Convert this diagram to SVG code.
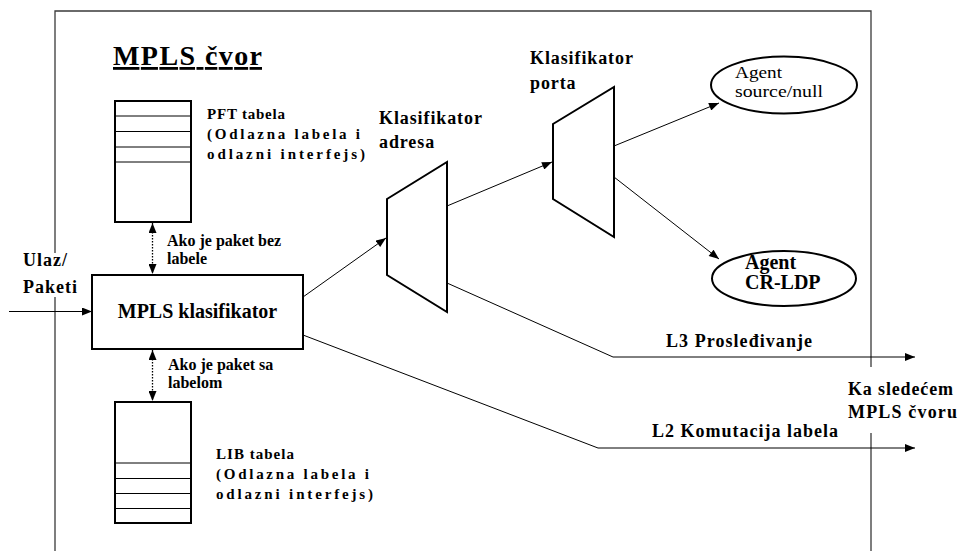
<svg xmlns="http://www.w3.org/2000/svg" width="961" height="551" viewBox="0 0 961 551">
  <style>
    .frame { fill: none; stroke: #3a3a3a; stroke-width: 1.3; }
    .box { fill: #ffffff; stroke: #000000; stroke-width: 2; }
    .row { stroke: #000000; stroke-width: 1; }
    .conn { fill: none; stroke: #000000; stroke-width: 1; }
    .dotted { fill: none; stroke: #000000; stroke-width: 1.3; stroke-dasharray: 1.5 1.5; }
    .t { font-family: "Liberation Serif", "Times New Roman", serif; fill: #000000; }
    .b { font-weight: bold; }
  </style>
  <defs>
    <marker id="arrow" viewBox="0 0 10 8" refX="10" refY="4" markerWidth="11" markerHeight="8" markerUnits="userSpaceOnUse" orient="auto-start-reverse">
      <path d="M0,0 L10,4 L0,8 z" fill="#000000"/>
    </marker>
  </defs>

  <!-- node boundary -->
  <g id="frame">
    <path class="frame" d="M55,551 V297 M55,253 V11 H871 V367 M871,433 V551"/>
  </g>

  <text class="t b" x="113" y="65" font-size="28" textLength="149" lengthAdjust="spacing" text-decoration="underline">MPLS čvor</text>

  <!-- connectors -->
  <g id="connectors">
    <line class="conn" x1="9" y1="311.5" x2="92" y2="311.5" marker-end="url(#arrow)"/>
    <line class="dotted" x1="152.5" y1="223" x2="152.5" y2="274" marker-start="url(#arrow)" marker-end="url(#arrow)"/>
    <line class="dotted" x1="152.5" y1="350" x2="152.5" y2="401" marker-start="url(#arrow)" marker-end="url(#arrow)"/>
    <line class="conn" x1="303" y1="297" x2="386" y2="238" marker-end="url(#arrow)"/>
    <line class="conn" x1="447" y1="206" x2="552" y2="162" marker-end="url(#arrow)"/>
    <line class="conn" x1="614" y1="146" x2="719" y2="103" marker-end="url(#arrow)"/>
    <line class="conn" x1="614" y1="177" x2="719" y2="259" marker-end="url(#arrow)"/>
    <polyline class="conn" points="447,283 613,357 915,357" marker-end="url(#arrow)"/>
    <polyline class="conn" points="303,335 598,448 915,448" marker-end="url(#arrow)"/>
  </g>

  <!-- PFT table -->
  <g id="pft">
    <rect class="box" x="115" y="101" width="76" height="121"/>
    <line class="row" x1="115" y1="116" x2="191" y2="116"/>
    <line class="row" x1="115" y1="131.5" x2="191" y2="131.5"/>
    <line class="row" x1="115" y1="147" x2="191" y2="147"/>
    <line class="row" x1="115" y1="162" x2="191" y2="162"/>
    <text class="t b" x="207" y="119" font-size="15" textLength="78" lengthAdjust="spacing">PFT tabela</text>
    <text class="t b" x="207" y="139" font-size="15" textLength="153" lengthAdjust="spacing">(Odlazna labela i</text>
    <text class="t b" x="207" y="159" font-size="15" textLength="158" lengthAdjust="spacing">odlazni interfejs)</text>
  </g>

  <!-- LIB table -->
  <g id="lib">
    <rect class="box" x="115" y="402" width="76" height="121"/>
    <line class="row" x1="115" y1="463" x2="191" y2="463"/>
    <line class="row" x1="115" y1="478.5" x2="191" y2="478.5"/>
    <line class="row" x1="115" y1="493.5" x2="191" y2="493.5"/>
    <line class="row" x1="115" y1="508.5" x2="191" y2="508.5"/>
    <text class="t b" x="216" y="459" font-size="15" textLength="78" lengthAdjust="spacing">LIB tabela</text>
    <text class="t b" x="216" y="479" font-size="15" textLength="153" lengthAdjust="spacing">(Odlazna labela i</text>
    <text class="t b" x="216" y="499" font-size="15" textLength="157" lengthAdjust="spacing">odlazni interfejs)</text>
  </g>

  <!-- MPLS classifier -->
  <g id="mpls-klasifikator">
    <rect class="box" x="92" y="275" width="211" height="74"/>
    <text class="t b" x="197.5" y="318" font-size="20" text-anchor="middle">MPLS klasifikator</text>
  </g>

  <g id="label-bez">
    <text class="t b" x="167" y="246" font-size="16">Ako je paket bez</text>
    <text class="t b" x="167" y="264" font-size="16">labele</text>
  </g>
  <g id="label-sa">
    <text class="t b" x="168" y="370" font-size="16">Ako je paket sa</text>
    <text class="t b" x="168" y="388" font-size="16">labelom</text>
  </g>

  <g id="ulaz">
    <text class="t b" x="23" y="266" font-size="18" letter-spacing="1">Ulaz/</text>
    <text class="t b" x="23" y="293" font-size="18" letter-spacing="1">Paketi</text>
  </g>

  <!-- address classifier -->
  <g id="klasifikator-adresa">
    <polygon class="box" points="387,199 447,162 447,312 387,275"/>
    <text class="t b" x="379" y="124" font-size="18" letter-spacing="0.9">Klasifikator</text>
    <text class="t b" x="379" y="148" font-size="18" letter-spacing="0.9">adresa</text>
  </g>

  <!-- port classifier -->
  <g id="klasifikator-porta">
    <polygon class="box" points="553,124 614,87 614,237 553,199"/>
    <text class="t b" x="530" y="64" font-size="18" letter-spacing="0.9">Klasifikator</text>
    <text class="t b" x="530" y="89" font-size="18" letter-spacing="0.9">porta</text>
  </g>

  <!-- agents -->
  <g id="agent-source">
    <ellipse class="box" cx="784" cy="85" rx="73" ry="28.5"/>
    <text class="t" x="735" y="78" font-size="17" textLength="47" lengthAdjust="spacingAndGlyphs">Agent</text>
    <text class="t" x="735" y="97" font-size="17" textLength="88" lengthAdjust="spacingAndGlyphs">source/null</text>
  </g>
  <g id="agent-crldp">
    <ellipse class="box" cx="784" cy="278.5" rx="72" ry="27.5"/>
    <text class="t b" x="745" y="269" font-size="20">Agent</text>
    <text class="t b" x="745" y="289" font-size="20">CR-LDP</text>
  </g>

  <g id="path-labels">
    <text class="t b" x="666" y="347" font-size="18" textLength="146" lengthAdjust="spacing">L3 Prosleđivanje</text>
    <text class="t b" x="652" y="437" font-size="18" textLength="186" lengthAdjust="spacing">L2 Komutacija labela</text>
    <text class="t b" x="848" y="395" font-size="18" textLength="105" lengthAdjust="spacing">Ka sledećem</text>
    <text class="t b" x="848" y="418" font-size="18" textLength="109" lengthAdjust="spacing">MPLS čvoru</text>
  </g>
</svg>
